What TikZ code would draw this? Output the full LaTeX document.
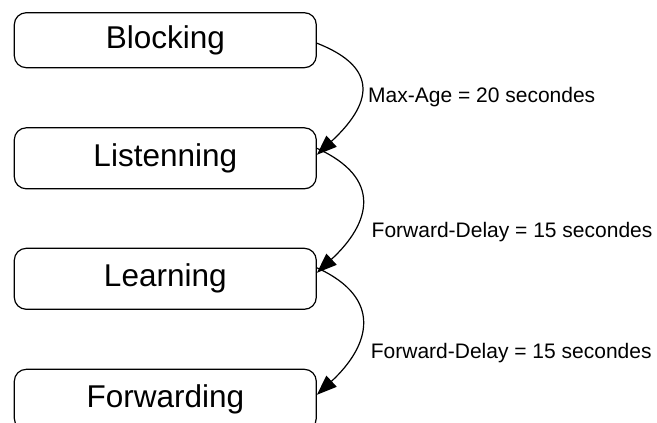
\documentclass[tikz,border=0pt]{standalone}
\usepackage{fontspec}
\setmainfont{Liberation Sans}
\usetikzlibrary{arrows.meta}

\tikzset{
  statebox/.style={draw=black, line width=1.2pt, rounded corners=12pt, fill=white,
    minimum width=302pt, inner sep=0pt, text=black,
    font=\fontsize{31.5}{36}\selectfont},
  trans/.style={draw=black, line width=1.2pt,
    -{Triangle[length=20pt,width=15pt]}},
  translabel/.style={anchor=west, inner sep=0pt, text=black,
    font=\fontsize{21}{25}\selectfont}
}

\begin{document}
\begin{tikzpicture}[x=1pt,y=-1pt]
  \useasboundingbox[fill=white] (0,0) rectangle (657,423);

  % STP port states
  \node[statebox, minimum height=55pt] (blk) at (165.3,40.2) {Blocking};
  \node[statebox, minimum height=61pt] (lis) at (165.3,158.3) {Listenning};
  \node[statebox, minimum height=61pt] (lrn) at (165.3,278.8) {Learning};
  \node[statebox, minimum height=61pt] (fwd) at (165.3,399.8) {Forwarding};

  % transitions between states
  \draw[trans] ([yshift=-3pt]blk.east) .. controls +(64,25) and +(54,-50) .. ([yshift=3.5pt]lis.east);
  \draw[trans] ([yshift=10pt]lis.east) .. controls +(66,30) and +(54,-50) .. ([yshift=6pt]lrn.east);
  \draw[trans] ([yshift=11pt]lrn.east) .. controls +(66,30) and +(54,-50) .. ([yshift=5pt]fwd.east);

  % transition timers
  \node[translabel] (t1) at (368,96.7) {Max-Age = 20 secondes};
  \node[translabel] (t2) at (371.5,231.7) {Forward-Delay = 15 secondes};
  \node[translabel] (t3) at (370.7,353.3) {Forward-Delay = 15 secondes};
\end{tikzpicture}
\end{document}
